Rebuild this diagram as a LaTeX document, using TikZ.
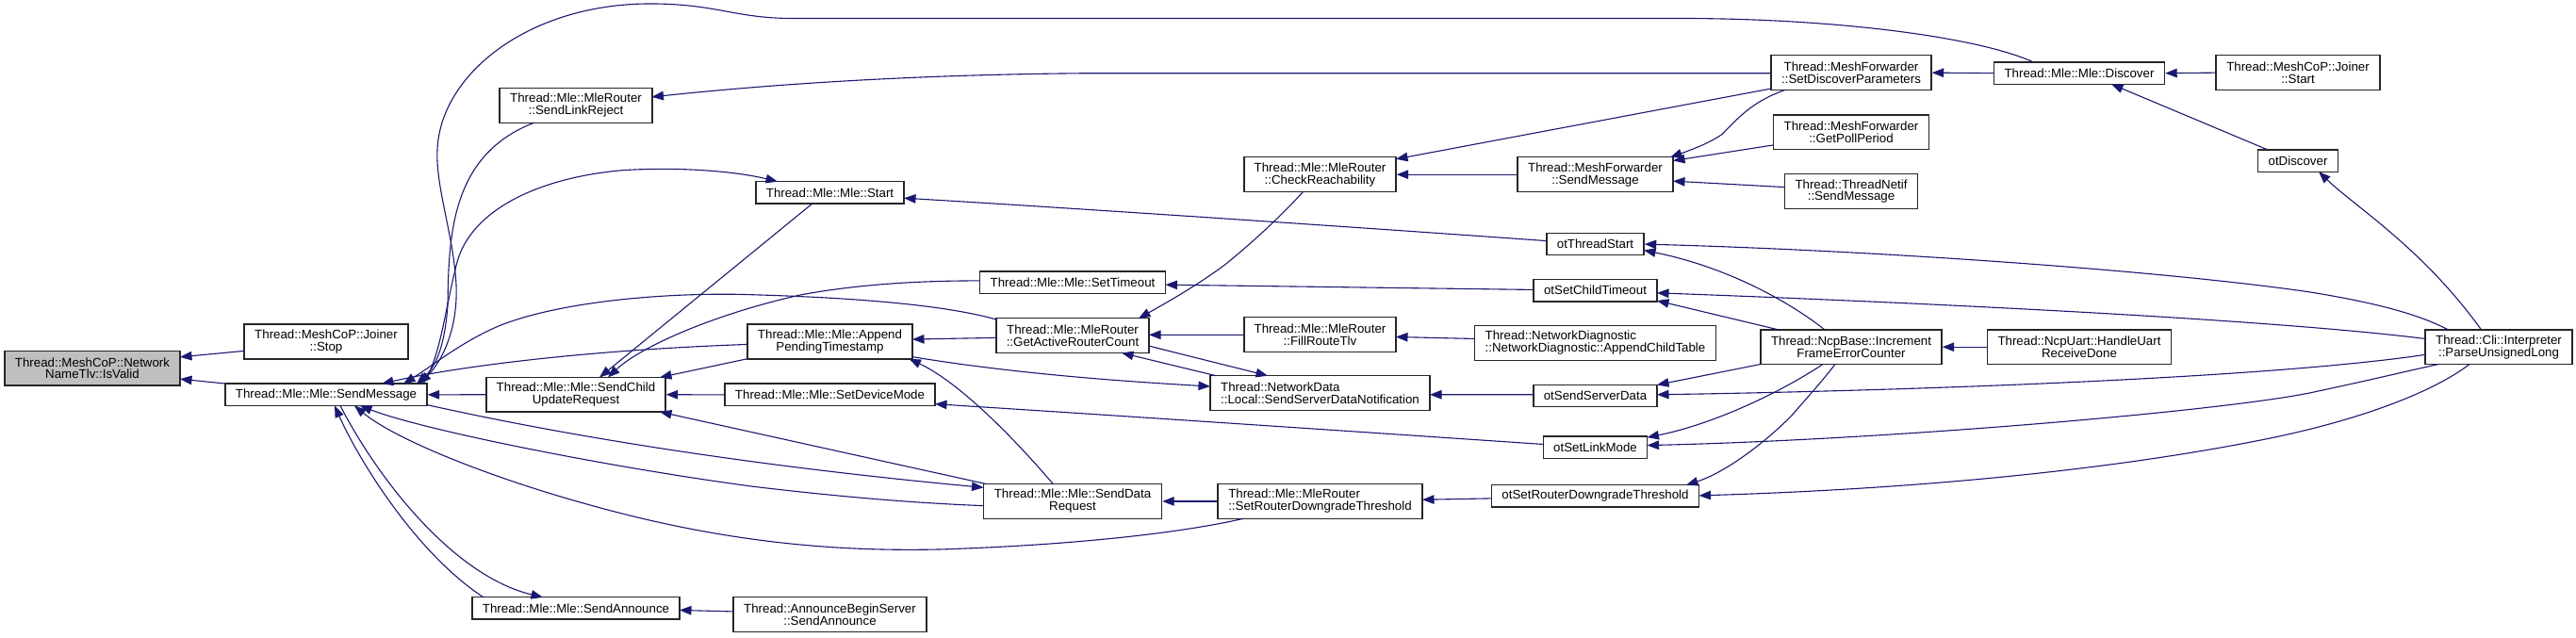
\documentclass[tikz,border=0pt]{standalone}
\usepackage{fontspec}
\setmainfont{Liberation Sans}
\usetikzlibrary{arrows.meta,calc}
\definecolor{mblue}{HTML}{191970}
\begin{document}
\begin{tikzpicture}[x=1pt,y=-0.993pt,
  nd/.style={draw=black!85, line width=1.4pt, fill=white, inner sep=0pt, align=center, font=\fontsize{13.3}{12.8}\selectfont},
  one/.style={minimum height=23.4pt},
  two/.style={minimum height=36.8pt},
  cg/.style={draw=mblue, line width=1.1pt, {Triangle[length=12.5pt,width=9.5pt]}-}]
\fill[white] (0,0) rectangle (2733,681.77);
\path[use as bounding box] (0,0) rectangle (2733,681.77);

\node[nd,two,minimum width=186pt,fill=gray!50] (isvalid) at (98,393.5) {Thread::MeshCoP::Network\\NameTlv::IsValid};
\node[nd,two,minimum width=174pt] (joinerstop) at (346,365) {Thread::MeshCoP::Joiner\\::Stop};
\node[nd,one,minimum width=214pt] (sendmsg) at (346,421.8) {Thread::Mle::Mle::SendMessage};
\node[nd,two,minimum width=162pt] (slr) at (611,112.6) {Thread::Mle::MleRouter\\::SendLinkReject};
\node[nd,two,minimum width=190pt] (scur) at (611,421.7) {Thread::Mle::Mle::SendChild\\UpdateRequest};
\node[nd,one,minimum width=220pt] (sendann) at (611,650) {Thread::Mle::Mle::SendAnnounce};
\node[nd,one,minimum width=157pt] (mlestart) at (880.5,205.7) {Thread::Mle::Mle::Start};
\node[nd,one,minimum width=197pt] (settimeout) at (1138,302) {Thread::Mle::Mle::SetTimeout};
\node[nd,two,minimum width=175pt] (apt) at (880.5,365) {Thread::Mle::Mle::Append\\PendingTimestamp};
\node[nd,two,minimum width=162pt] (garc) at (1138,358.7) {Thread::Mle::MleRouter\\::GetActiveRouterCount};
\node[nd,one,minimum width=223pt] (setdev) at (880.5,421.8) {Thread::Mle::Mle::SetDeviceMode};
\node[nd,two,minimum width=189pt] (sdr) at (1138,535.7) {Thread::Mle::Mle::SendData\\Request};
\node[nd,two,minimum width=205pt] (abs) at (880.5,656.5) {Thread::AnnounceBeginServer\\::SendAnnounce};
\node[nd,two,minimum width=161pt] (checkreach) at (1400.5,186.5) {Thread::Mle::MleRouter\\::CheckReachability};
\node[nd,two,minimum width=165pt] (mfsend) at (1692.5,186.5) {Thread::MeshForwarder\\::SendMessage};
\node[nd,two,minimum width=170pt] (setdisc) at (1964,77.7) {Thread::MeshForwarder\\::SetDiscoverParameters};
\node[nd,two,minimum width=165pt] (getpoll) at (1964,141.3) {Thread::MeshForwarder\\::GetPollPeriod};
\node[nd,two,minimum width=141pt] (netif) at (1964,204.4) {Thread::ThreadNetif\\::SendMessage};
\node[nd,one,minimum width=103pt] (otts) at (1692.5,260.9) {otThreadStart};
\node[nd,one,minimum width=131pt] (otsct) at (1692.5,310.3) {otSetChildTimeout};
\node[nd,two,minimum width=161pt] (fillroute) at (1400.5,357.4) {Thread::Mle::MleRouter\\::FillRouteTlv};
\node[nd,two,minimum width=256pt,align=left] (appchild) at (1692.5,366.5) {Thread::NetworkDiagnostic\\::NetworkDiagnostic::AppendChildTable};
\node[nd,two,minimum width=192pt] (ifec) at (1964,370.8) {Thread::NcpBase::Increment\\FrameErrorCounter};
\node[nd,two,minimum width=233pt,align=left] (ssdn) at (1400.5,419.9) {Thread::NetworkData\\::Local::SendServerDataNotification};
\node[nd,one,minimum width=131pt] (otssd) at (1692.5,423) {otSendServerData};
\node[nd,one,minimum width=110pt] (otslm) at (1692.5,477.9) {otSetLinkMode};
\node[nd,two,minimum width=217pt,align=left] (mrsrdt) at (1400.5,535.7) {Thread::Mle::MleRouter\\::SetRouterDowngradeThreshold};
\node[nd,one,minimum width=220pt] (otsrdt) at (1692.5,530) {otSetRouterDowngradeThreshold};
\node[nd,one,minimum width=181pt] (mldisc) at (2206,78.2) {Thread::Mle::Mle::Discover};
\node[nd,two,minimum width=174pt] (joinstart) at (2438,77.7) {Thread::MeshCoP::Joiner\\::Start};
\node[nd,one,minimum width=84.5pt] (otdisc) at (2438,171.8) {otDiscover};
\node[nd,two,minimum width=195.5pt] (uart) at (2206,370.8) {Thread::NcpUart::HandleUart\\ReceiveDone};
\node[nd,two,minimum width=156pt] (parseul) at (2651,370.8) {Thread::Cli::Interpreter\\::ParseUnsignedLong};

\draw[cg] ($(isvalid)+(93,-12)$) -- ($(joinerstop)+(-87,10)$);
\draw[cg] ($(isvalid)+(93,11.5)$) -- ($(sendmsg)+(-105,-11.7)$);
\draw[cg] ($(sendmsg)+(96,-11.7)$) .. controls (462,392) and (472,370) .. (475,326) .. controls (476,250) and (479,165) .. ($(slr)+(-44,18.4)$);
\draw[cg] ($(sendmsg)+(99,-11.7)$) .. controls (470,385) and (486,350) .. (484,304) .. controls (481,250) and (462,200) .. (464,160) .. controls (467,80) and (560,4) .. (690,4) .. controls (760,4) and (780,19.6) .. (840,19.6) -- (1780,19.6) .. controls (1950,19.6) and (2100,40) .. ($(mldisc)+(-48.5,-11.7)$);
\draw[cg] ($(sendmsg)+(82,-11.7)$) .. controls (460,390) and (490,365) .. (530,348) .. controls (600,320) and (720,312) .. (800,315) .. controls (900,318) and (1000,325) .. ($(garc)+(-80,-17)$);
\draw[cg] ($(sendmsg)+(59,-11.7)$) .. controls (470,395) and (600,375) .. ($(apt)+(-87.5,3)$);
\draw[cg] (sendmsg.east) -- (scur.west);
\draw[cg] ($(sdr)+(-94.5,-14.7)$) .. controls (950,512) and (700,488) .. ($(sendmsg)+(107,10.8)$);
\draw[cg] ($(sendmsg)+(36,11.7)$) .. controls (450,460) and (650,500) .. (800,520) .. controls (900,532) and (980,538) .. ($(sdr)+(-94.5,4.7)$);
\draw[cg] ($(sendmsg)+(30,11.7)$) .. controls (420,470) and (520,510) .. (620,538) .. controls (760,578) and (880,590) .. (1000,587) .. controls (1150,582) and (1260,568) .. ($(mrsrdt)+(-81,18.4)$);
\draw[cg] ($(sendmsg)+(9,11.7)$) .. controls (380,490) and (440,590) .. ($(sendann)+(-98,-11.7)$);
\draw[cg] ($(sendann)+(-35,-11.7)$) .. controls (480,615) and (400,510) .. ($(sendmsg)+(15,11.7)$);
\draw[cg] ($(mlestart)+(-55.5,-11.7)$) .. controls (780,183) and (720,178) .. (660,182) .. controls (570,190) and (500,225) .. (485,280) .. controls (472,330) and (468,380) .. ($(sendmsg)+(103,-11.7)$);
\draw[cg] ($(scur)+(25,-18.4)$) -- ($(mlestart)+(-18.5,11.7)$);
\draw[cg] ($(scur)+(34,-18.4)$) .. controls (680,370) and (760,335) .. (850,315) .. controls (920,302) and (990,300) .. ($(settimeout)+(-98.5,-2)$);
\draw[cg] ($(scur)+(89,-18.4)$) -- ($(apt)+(-87.5,18.4)$);
\draw[cg] (scur.east) -- (setdev.west);
\draw[cg] ($(scur)+(89,18.4)$) -- ($(sdr)+(-91,-18.4)$);
\draw[cg] ($(apt)+(87.5,-2.4)$) -- ($(garc)+(-81,2.2)$);
\draw[cg] ($(apt)+(84,18.4)$) .. controls (1010,405) and (1060,450) .. ($(sdr)+(-20.6,-18.4)$);
\draw[cg] ($(ssdn)+(-116.5,-7)$) .. controls (1200,408) and (1080,400) .. ($(apt)+(87.5,16.3)$);
\draw[cg] ($(garc)+(52,18.4)$) -- ($(ssdn)+(-110.5,-18.4)$);
\draw[cg] ($(ssdn)+(-55.5,-18.4)$) -- ($(garc)+(81,11)$);
\draw[cg] ($(garc)+(81,-0.9)$) -- ($(fillroute)+(-80.5,0.4)$);
\draw[cg] ($(fillroute)+(80.5,2.6)$) -- ($(appchild)+(-128,-4.5)$);
\draw[cg] ($(garc)+(70,-18.4)$) .. controls (1240,322) and (1270,305) .. (1300,282.6) .. controls (1330,258) and (1360,230) .. ($(checkreach)+(-18,18.4)$);
\draw[cg] (checkreach.east) -- (mfsend.west);
\draw[cg] ($(checkreach)+(80.5,-16.5)$) -- ($(setdisc)+(-85,17)$);
\draw[cg] ($(mfsend)+(79.5,-18.4)$) .. controls (1800,158) and (1815,152) .. (1827,143.5) .. controls (1845,125) and (1860,108) .. ($(setdisc)+(-70,18.4)$);
\draw[cg] ($(mfsend)+(82.5,-14.8)$) -- ($(getpoll)+(-82.5,13.7)$);
\draw[cg] ($(mfsend)+(82.5,7)$) -- ($(netif)+(-70.5,-4.4)$);
\draw[cg] ($(slr)+(80.5,-9)$) .. controls (800,92) and (950,80) .. (1150,78.3) -- ($(setdisc)+(-85,0.6)$);
\draw[cg] (setdisc.east) -- (mldisc.west);
\draw[cg] (mldisc.east) -- (joinstart.west);
\draw[cg] ($(mldisc)+(34,11.7)$) -- ($(otdisc)+(-32,-11.7)$);
\draw[cg] ($(otdisc)+(22,11.7)$) .. controls (2500,222) and (2570,265) .. ($(parseul)+(-18.5,-18.4)$);
\draw[cg] ($(mlestart)+(78.5,6)$) .. controls (1100,220) and (1400,240) .. ($(otts)+(-51.5,-3.5)$);
\draw[cg] (otts.east) .. controls (2000,268) and (2300,290) .. (2450,312) .. controls (2530,325) and (2570,338) .. ($(parseul)+(-53.5,-18.4)$);
\draw[cg] ($(otts)+(51.5,6.5)$) .. controls (1830,285) and (1895,320) .. ($(ifec)+(-28,-18.4)$);
\draw[cg] ($(settimeout)+(98.5,2.3)$) -- ($(otsct)+(-65.5,-0.7)$);
\draw[cg] ($(otsct)+(65.5,2.7)$) .. controls (2000,322) and (2400,340) .. ($(parseul)+(-78,-8.8)$);
\draw[cg] ($(otsct)+(65.5,11)$) -- ($(ifec)+(-77,-18.4)$);
\draw[cg] (ifec.east) -- (uart.west);
\draw[cg] ($(ssdn)+(116.5,1.8)$) -- ($(otssd)+(-65.5,-1.3)$);
\draw[cg] ($(otssd)+(65.5,-1.3)$) .. controls (2000,418) and (2400,405) .. ($(parseul)+(-78,8.2)$);
\draw[cg] ($(otssd)+(65.5,-11.7)$) -- ($(ifec)+(-96,18.4)$);
\draw[cg] ($(setdev)+(111.5,9.9)$) .. controls (1200,445) and (1450,462) .. ($(otslm)+(-55,-3.1)$);
\draw[cg] ($(otslm)+(55,-2)$) .. controls (2000,470) and (2350,440) .. (2450,420) .. controls (2520,405) and (2560,395) .. ($(parseul)+(-63.5,18.4)$);
\draw[cg] ($(otslm)+(55,-10.5)$) .. controls (1810,455) and (1880,425) .. ($(ifec)+(-30,18.4)$);
\draw[cg] ($(mrsrdt)+(108.5,-1.7)$) -- ($(otsrdt)+(-110,2.6)$);
\draw[cg] (sdr.east) -- (mrsrdt.west);
\draw[cg] ($(otsrdt)+(110,-0.4)$) .. controls (2050,522) and (2250,500) .. (2400,470) .. controls (2500,450) and (2580,420) .. ($(parseul)+(-31,18.4)$);
\draw[cg] ($(otsrdt)+(96.5,-11.7)$) .. controls (1830,505) and (1870,475) .. (1900,445) .. controls (1920,422) and (1935,405) .. ($(ifec)+(-17,18.4)$);
\draw[cg] ($(sendann)+(110,2)$) -- ($(abs)+(-102.5,-3)$);
\end{tikzpicture}
\end{document}
